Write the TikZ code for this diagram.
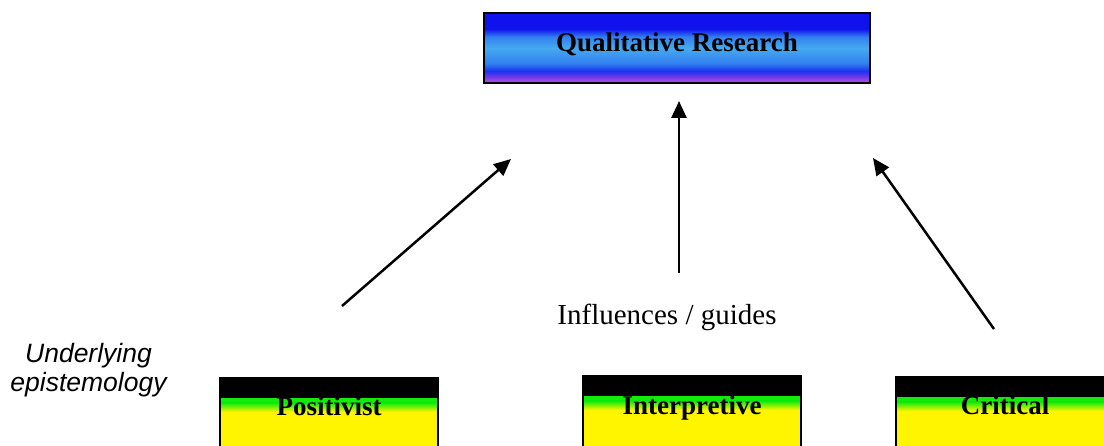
\documentclass[tikz,border=0pt]{standalone}
\usepackage{fontspec}
\setmainfont{Liberation Serif}
\newfontfamily\epsans{Liberation Sans}
\usetikzlibrary{arrows.meta}

% colours of the title box and the paradigm boxes
\definecolor{qblue}{RGB}{16,18,238}
\definecolor{qblueb}{RGB}{28,50,240}
\definecolor{qcyan}{RGB}{70,170,240}
\definecolor{qcyanb}{RGB}{50,128,240}
\definecolor{qpurp}{RGB}{120,60,232}
\definecolor{qmag}{RGB}{185,80,225}
\definecolor{bandgreen}{RGB}{20,235,10}
\definecolor{boxyellow}{RGB}{255,245,0}

% vertical shading of the title box (inner 25bp..75bp span the box)
\pgfdeclareverticalshading{qrshade}{100bp}{%
  color(0bp)=(qmag); color(25bp)=(qmag); color(29bp)=(qpurp);
  color(33.6bp)=(qblueb); color(39bp)=(qcyanb); color(50bp)=(qcyan);
  color(58bp)=(qcyanb); color(63.6bp)=(qblue); color(75bp)=(qblue);
  color(100bp)=(qblue)}

\tikzset{
  titlebox/.style={draw=black, line width=2pt, shading=qrshade,
    minimum width=386pt, minimum height=70pt, inner sep=0pt,
    text height=20pt, text depth=12pt,
    font=\fontsize{27}{30}\selectfont\bfseries},
  paradigm/.style={draw=black, line width=1.5pt, fill=boxyellow,
    minimum width=218pt, minimum height=92pt, inner sep=0pt,
    text height=20pt, text depth=36pt,
    font=\fontsize{27}{30}\selectfont\bfseries,
    path picture={
      \fill[black] (path picture bounding box.north west)
        rectangle ([yshift=-20pt]path picture bounding box.north east);
      \fill[bandgreen] ([yshift=-20pt]path picture bounding box.north west)
        rectangle ([yshift=-25pt]path picture bounding box.north east);
      \shade[top color=bandgreen, bottom color=boxyellow]
        ([yshift=-25pt]path picture bounding box.north west)
        rectangle ([yshift=-34pt]path picture bounding box.north east);
    }},
  influence/.style={line width=2.5pt,
    -{Triangle[length=17pt,width=15pt]}},
  caption/.style={font=\fontsize{29}{32}\selectfont, inner sep=0pt},
  sidenote/.style={font=\epsans\itshape\fontsize{26.5}{29.5}\selectfont,
    align=center, inner sep=0pt}
}

\begin{document}
\begin{tikzpicture}[x=1pt, y=-1pt]
  \useasboundingbox (0,0) rectangle (1104,446);
  \clip (0,0) rectangle (1104,446);

  % title box
  \node[titlebox] (qr) at (677,48) {Qualitative Research};

  % the three paradigms
  \node[paradigm] (pos) at (329,424) {Positivist};
  \node[paradigm] (int) at (692,422) {Interpretive};
  \node[paradigm] (crit) at (1005,423) {Critical};

  % labels
  \node[caption, anchor=base] (infl) at (667,325) {Influences / guides};
  \node[sidenote, anchor=base] (epi) at (88.5,392)
    {Underlying\\epistemology};

  % arrows pointing up to the title box
  \coordinate (a1s) at (342,306);
  \coordinate (a1e) at (511,159);
  \coordinate (a2s) at (679,273);
  \coordinate (a2e) at (679,101);
  \coordinate (a3s) at (994,329);
  \coordinate (a3e) at (873,158);
  \draw[influence] (a1s) -- (a1e);
  \draw[influence] (a2s) -- (a2e);
  \draw[influence] (a3s) -- (a3e);
\end{tikzpicture}
\end{document}
